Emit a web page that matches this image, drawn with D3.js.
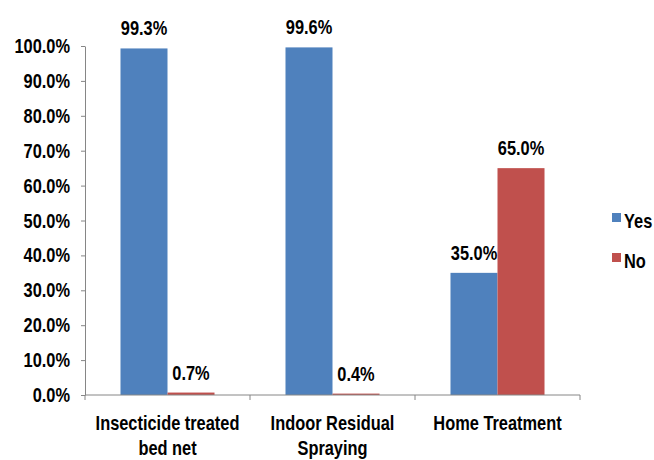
<!DOCTYPE html>
<html>
<head>
<meta charset="utf-8">
<script src="https://cdn.jsdelivr.net/npm/d3@7"></script>
<style>
  body { margin: 0; background: #fff; }
  text { font-family: "Liberation Sans", Arial, sans-serif; font-weight: bold; fill: #000; }
</style>
</head>
<body>
<script>
const categories = [['Insecticide treated', 'bed net'], ['Indoor Residual', 'Spraying'], ['Home Treatment']]
const seriesNames = ['Yes', 'No']
const yesValues = [99.3, 99.6, 35.0]
const noValues = [0.7, 0.4, 65.0]
const yTicks = [0, 10, 20, 30, 40, 50, 60, 70, 80, 90, 100]
const colors = ['#4F81BD', '#C0504D']

const width = 654
const height = 460
const margin = { left: 85, right: 74, top: 46, bottom: 65 }
const fontSize = 20
const squeeze = 0.82 // fake a narrow font

const svg = d3.select('body').append('svg')
  .attr('width', width).attr('height', height)

// text squeezed horizontally around its own anchor point
const narrowText = (parent, x, y, anchor) => parent.append('g')
  .attr('transform', `translate(${x},${y}) scale(${squeeze},1)`)
  .append('text')
  .attr('text-anchor', anchor)
  .attr('font-size', fontSize)

const catKeys = categories.map(c => c.join(' '))
const x0 = d3.scaleBand().domain(catKeys)
  .range([margin.left, width - margin.right]).padding(0)
const x1 = d3.scaleBand().domain(seriesNames)
  .range([0, x0.bandwidth()]).paddingInner(0).paddingOuter(0.755)
const y = d3.scaleLinear().domain([0, 100]).range([height - margin.bottom, margin.top])

const rows = catKeys.map((k, i) => ({ key: k, values: [yesValues[i], noValues[i]] }))

// bars
const groups = svg.append('g').selectAll('g').data(rows).join('g')
  .attr('transform', d => `translate(${x0(d.key)},0)`)

groups.selectAll('rect')
  .data(d => d.values.map((v, j) => ({ name: seriesNames[j], v, j })))
  .join('rect')
  .attr('x', d => x1(d.name))
  .attr('y', d => y(d.v))
  .attr('width', x1.bandwidth())
  .attr('height', d => y(0) - y(d.v))
  .attr('fill', d => colors[d.j])

groups.each(function (d) {
  const g = d3.select(this)
  d.values.forEach((v, j) => {
    narrowText(g, x1(seriesNames[j]) + x1.bandwidth() / 2, y(v) - 13, 'middle')
      .text(v.toFixed(1) + '%')
  })
})

// y axis
const yAxis = svg.append('g')
  .attr('transform', `translate(${margin.left},0)`)
  .call(d3.axisLeft(y).tickValues(yTicks).tickSize(4).tickSizeOuter(0).tickFormat(() => ''))
yAxis.selectAll('line, path').attr('stroke', '#868686')
yTicks.forEach(t => {
  narrowText(yAxis, -15, y(t) + 7, 'end').text(t.toFixed(1) + '%')
})

// x axis
const xAxis = svg.append('g')
  .attr('transform', `translate(0,${y(0)})`)
xAxis.append('line')
  .attr('x1', margin.left).attr('x2', width - margin.right)
  .attr('stroke', '#868686')
const tickXs = catKeys.map(k => x0(k)).concat([x0(catKeys[catKeys.length - 1]) + x0.bandwidth()])
xAxis.selectAll('line.tick').data(tickXs).join('line')
  .attr('class', 'tick')
  .attr('x1', d => d).attr('x2', d => d)
  .attr('y1', 0).attr('y2', 5)
  .attr('stroke', '#868686')

rows.forEach((d, i) => {
  const cx = x0(d.key) + x0.bandwidth() / 2
  categories[i].forEach((line, li) => {
    narrowText(svg, cx, y(0) + 35 + li * 25, 'middle').text(line)
  })
})

// legend
const legend = svg.append('g').attr('transform', 'translate(612,213)')
seriesNames.forEach((name, i) => {
  const g = legend.append('g').attr('transform', `translate(0,${i * 40})`)
  g.append('rect').attr('width', 9).attr('height', 9).attr('fill', colors[i])
  narrowText(g, 12, 15, 'start').text(name)
})
</script>
</body>
</html>
